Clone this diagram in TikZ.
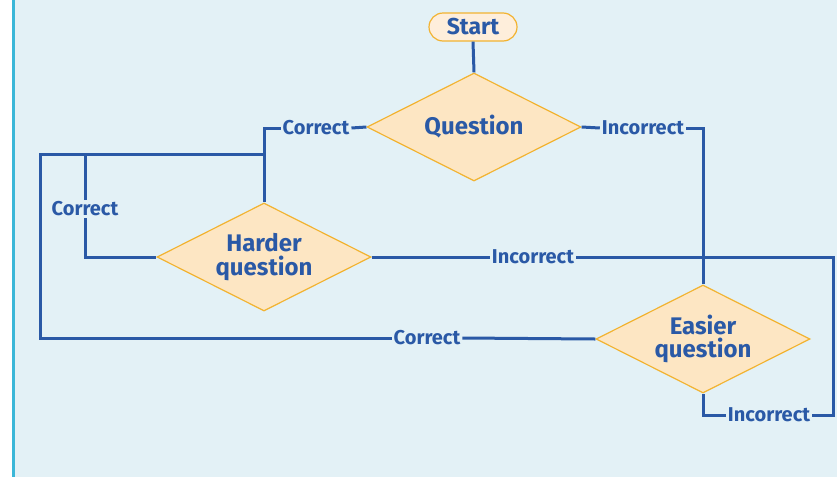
\documentclass[tikz,border=0pt]{standalone}
\usepackage{fontspec}
\setmainfont{Fira Sans}
\usetikzlibrary{shapes.geometric}
\definecolor{bg}{HTML}{E3F1F6}
\definecolor{edge}{HTML}{3BB7D8}
\definecolor{flow}{HTML}{2A59A6}
\definecolor{boxfill}{HTML}{FDE6C3}
\definecolor{startfill}{HTML}{FEEEDB}
\definecolor{boxline}{HTML}{F2B331}
\tikzset{
  conn/.style={draw=flow, line width=3pt},
  decision/.style={diamond, aspect=2, inner sep=0pt, draw=boxline, line width=1.2pt,
    fill=boxfill, minimum width=214pt, minimum height=108pt, text=flow,
    font=\bfseries\fontsize{24}{23.5}\selectfont, align=center},
  terminal/.style={rectangle, rounded corners=14pt, draw=boxline, line width=1.2pt,
    fill=startfill, minimum width=88pt, minimum height=28pt, inner sep=0pt, text=flow,
    font=\bfseries\fontsize{23}{24}\selectfont},
  answer/.style={inner sep=2pt, text=flow, font=\bfseries\fontsize{20}{21}\selectfont}
}
\begin{document}
\begin{tikzpicture}[x=1pt,y=-1pt]
  % canvas
  \useasboundingbox (0,0) rectangle (837,477);
  \fill[white] (0,0) rectangle (837,477);
  \fill[bg] (14,0) rectangle (837,477);
  \draw[edge, line width=2.6pt] (13.5,0) -- (13.5,477);

  % boxes
  \node[terminal] (start) at (473,27) {Start};
  \node[decision] (q) at (474,127) {Question};
  \node[decision] (h) at (264,257) {Harder\\question};
  \node[decision] (e) at (703,339) {Easier\\question};

  % answer labels
  \node[answer] (cq) at (316,128) {Correct};
  \node[answer] (iq) at (643,128) {Incorrect};
  \node[answer] (ch) at (85,209) {Correct};
  \node[answer] (ih) at (533,257) {Incorrect};
  \node[answer] (ce) at (427,338) {Correct};
  \node[answer] (ie) at (769,415) {Incorrect};

  % junction points
  \coordinate (ja) at (264,154);
  \coordinate (jl) at (40,154);
  \coordinate (jb) at (85,154);
  \coordinate (jr) at (833,415);

  % connectors
  \draw[conn] (start.south) -- (q.north);
  \draw[conn] (q.west) -- (cq.east);
  \draw[conn] (cq.west) -| (h.north);
  \draw[conn] (q.east) -- (iq.west);
  \draw[conn] (iq.east) -| (e.north);
  \draw[conn] (ce.west) -| (jl) -- (ja);
  \draw[conn] (jb) -- (ch.north);
  \draw[conn] (ch.south) |- (h.west);
  \draw[conn] (h.east) -- (ih.west);
  \draw[conn] (ih.east) -| (jr) -- (ie.east);
  \draw[conn] (ie.west) -| (e.south);
  \draw[conn] (e.west) -- (ce.east);
\end{tikzpicture}
\end{document}
